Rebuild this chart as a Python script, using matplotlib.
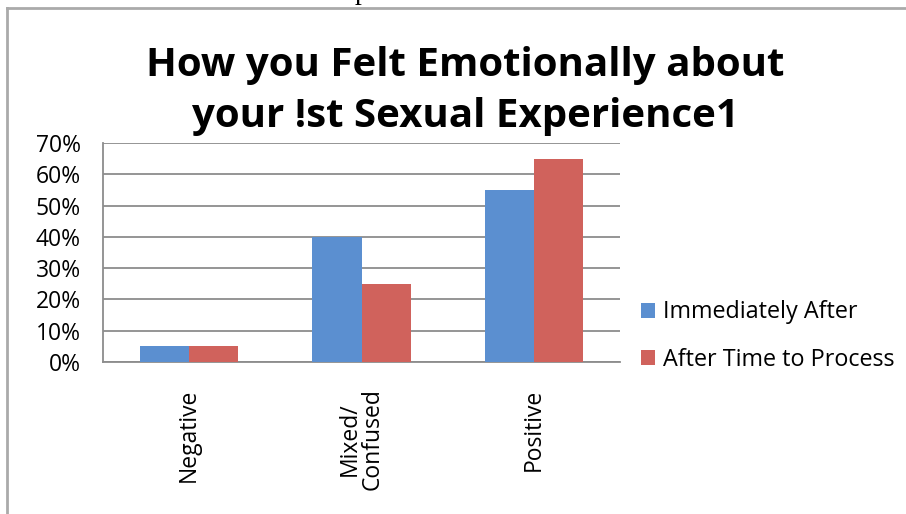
import numpy as np
import matplotlib.pyplot as plt
from matplotlib.lines import Line2D

categories = ['Negative', 'Mixed/\nConfused', 'Positive']
series_names = ['Immediately After', 'After Time to Process']
immediately_after = [5, 40, 55]
after_time = [5, 25, 65]
y_ticks = [0, 10, 20, 30, 40, 50, 60, 70]

blue = '#5b8fd0'
red = '#d0625c'


def main():
    fig = plt.figure(figsize=(9.06, 5.14), dpi=100)
    ax = fig.add_axes([103 / 906, 1 - 362 / 514, 517 / 906, 219 / 514])

    x = np.arange(len(categories))
    w = 0.285
    ax.bar(x - w / 2, immediately_after, w, color=blue, label=series_names[0], zorder=3)
    ax.bar(x + w / 2, after_time, w, color=red, label=series_names[1], zorder=3)

    ax.set_xlim(-0.5, len(categories) - 0.5)
    ax.set_ylim(0, 70)
    ax.set_yticks(y_ticks)
    ax.set_yticklabels(['%d%%' % v for v in y_ticks], fontsize=16.5, family='Open Sans')
    ax.grid(axis='y', color='#8c8c8c', linewidth=1.3, zorder=0)
    ax.tick_params(axis='y', length=0, pad=16)
    ax.tick_params(axis='x', length=0, pad=19)
    ax.set_xticks(x)
    ax.set_xticklabels(categories, rotation=90, fontsize=16.5, family='Open Sans',
                       va='top', ha='center', linespacing=0.92)
    for s in ['top', 'right']:
        ax.spines[s].set_visible(False)
    ax.spines['left'].set_color('#8c8c8c')
    ax.spines['left'].set_linewidth(1.3)
    ax.spines['bottom'].set_color('#8c8c8c')
    ax.spines['bottom'].set_linewidth(1.3)

    fig.text(465 / 906, 1 - 91 / 514, 'How you Felt Emotionally about\nyour !st Sexual Experience1',
             ha='center', va='center', fontsize=29, fontweight='bold', family='Open Sans',
             linespacing=1.42)

    fig.legend(loc='center left', bbox_to_anchor=(620 / 906, 1 - 336 / 514), frameon=False,
               prop={'family': 'Open Sans', 'size': 16.8}, handlelength=0.62, handleheight=0.62,
               handletextpad=0.33, labelspacing=1.0)

    # outer border (top and left only visible)
    fig.add_artist(Line2D([7 / 906, 1], [1 - 8 / 514, 1 - 8 / 514], transform=fig.transFigure,
                          color='#aaaaaa', linewidth=2))
    fig.add_artist(Line2D([7 / 906, 7 / 906], [0, 1 - 8 / 514], transform=fig.transFigure,
                          color='#aaaaaa', linewidth=2))
    fig.text(362 / 906, 1 + 1 / 514, 'p', ha='center', va='baseline', fontsize=20, family='Liberation Serif')

    fig.savefig('out.png', dpi=100, facecolor='w')
    plt.close('all')


if __name__ == '__main__':
    main()
